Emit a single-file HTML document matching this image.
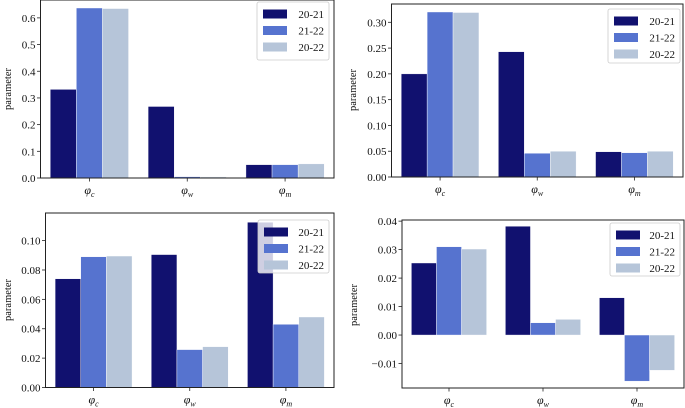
<!DOCTYPE html>
<html><head><meta charset="utf-8"><style>
html,body{margin:0;padding:0;background:#fff}
svg{display:block;font-family:"Liberation Serif","DejaVu Serif",serif}
</style></head><body>
<svg id="chart" width="685" height="408" viewBox="0 0 685 408"></svg>
<script>
const categories = ["c","w","m"];
const seriesNames = ["20-21","21-22","20-22"];
const p1_2021 = [0.332,0.268,0.050];
const p1_2122 = [0.637,0.005,0.050];
const p1_2022 = [0.635,0.004,0.053];
const p2_2021 = [0.200,0.243,0.049];
const p2_2122 = [0.320,0.046,0.047];
const p2_2022 = [0.319,0.050,0.050];
const p3_2021 = [0.074,0.0905,0.1125];
const p3_2122 = [0.089,0.0258,0.043];
const p3_2022 = [0.0895,0.0278,0.048];
const p4_2021 = [0.0253,0.0382,0.0131];
const p4_2122 = [0.031,0.0043,-0.0162];
const p4_2022 = [0.0302,0.0055,-0.0124];
const p1_ticks = ["0.0","0.1","0.2","0.3","0.4","0.5","0.6"];
const p2_ticks = ["0.00","0.05","0.10","0.15","0.20","0.25","0.30"];
const p3_ticks = ["0.00","0.02","0.04","0.06","0.08","0.10"];
const p4_ticks = ["−0.01","0.00","0.01","0.02","0.03","0.04"];

const colors = ["#11116f","#5673cf","#b6c5d9"];
const NS = "http://www.w3.org/2000/svg";
const svg = document.getElementById("chart");
function mk(tag, attrs, parent){
  const e = document.createElementNS(NS, tag);
  for (const k in attrs) e.setAttribute(k, attrs[k]);
  (parent||svg).appendChild(e);
  return e;
}
const panels = [
  {id:"top-left", box:[40.5,0,334,178], ymin:0, ymax:0.667, ticks:p1_ticks, series:[p1_2021,p1_2122,p1_2022], leg:[257,2,72,58], ylab:[8,89]},
  {id:"top-right", box:[391.5,4,683,177], ymin:0, ymax:0.3355, ticks:p2_ticks, series:[p2_2021,p2_2122,p2_2022], leg:[608,9,72,54], ylab:[353,90]},
  {id:"bottom-left", box:[45.5,213,334,387.5], ymin:0, ymax:0.1188, ticks:p3_ticks, series:[p3_2021,p3_2122,p3_2022], leg:[258,220,71,53], ylab:[8,300]},
  {id:"bottom-right", box:[402,220,684,388], ymin:-0.0186, ymax:0.0404, ticks:p4_ticks, series:[p4_2021,p4_2122,p4_2022], leg:[610,223,70,53], ylab:[354,305]}
];
panels.forEach(p=>{
  const [L,T,R,B] = p.box;
  const g = mk("g",{});
  
  
  const y = v => B - (v - p.ymin)/(p.ymax - p.ymin)*(B - T);
  const x = i => L + (i + 0.5)/3*(R - L);
  const unit = (R - L)/3, bw = unit*0.8/3;
  p.series.forEach((s,si)=>{
    s.forEach((v,ci)=>{
      const x0 = x(ci) - unit*0.4 + si*bw;
      const y0 = Math.min(y(v), y(0)), h = Math.abs(y(v) - y(0));
      const r = mk("rect",{x:x0,y:y0,width:bw,height:Math.max(h,0.5),fill:colors[si],stroke:"#fff","stroke-width":0.4},g);
      
      
    });
  });
  const frame = mk("rect",{x:L,y:T,width:R-L,height:B-T,fill:"none",stroke:"#222","stroke-width":1},g);
  
  
  p.ticks.forEach(t=>{
    const v = parseFloat(t.replace("−","-"));
    const yy = y(v);
    mk("line",{x1:L-3.5,x2:L,y1:yy,y2:yy,stroke:"#222","stroke-width":0.8},g);
    const tx = mk("text",{x:L-5,y:yy+4,"text-anchor":"end","font-size":11,fill:"#111"},g);
    tx.textContent = t;
    
    
  });
  categories.forEach((c,ci)=>{
    const xx = x(ci);
    mk("line",{x1:xx,x2:xx,y1:B,y2:B+3.5,stroke:"#222","stroke-width":0.8},g);
    const tx = mk("text",{x:xx,y:B+16,"text-anchor":"middle","font-size":12,"font-style":"italic",fill:"#111"},g);
    tx.textContent = "φ";
    const sub = mk("tspan",{dy:3,"font-size":8},tx);
    sub.textContent = c;
    
    
  });
  const yl = mk("text",{x:0,y:0,transform:`translate(${p.ylab[0]+3},${p.ylab[1]}) rotate(-90)`,"text-anchor":"middle","font-size":10.5,fill:"#111"},g);
  yl.textContent = "parameter";
  
  
  const [lx,ly,lw,lh] = p.leg;
  const lg = mk("g",{},g);
  
  
  mk("rect",{x:lx,y:ly,width:lw,height:lh,rx:2,fill:"rgba(255,255,255,0.8)",stroke:"#ccc","stroke-width":0.8},lg);
  seriesNames.forEach((n,i)=>{
    const cy = ly + 12 + i*16.5;
    const sw = mk("rect",{x:lx+6,y:cy-4.5,width:24,height:9,fill:colors[i]},lg);
    
    
    const t = mk("text",{x:lx+lw-5,y:cy+4,"text-anchor":"end","font-size":11,fill:"#111"},lg);
    t.textContent = n;
    
    
  });
});
</script>
</body></html>
